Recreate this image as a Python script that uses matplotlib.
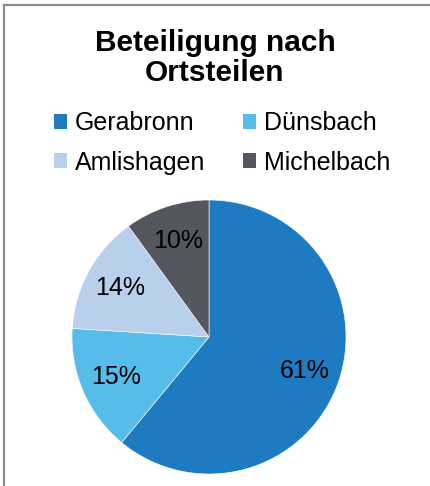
import matplotlib
matplotlib.use('Agg')
import matplotlib.pyplot as plt
from matplotlib.lines import Line2D
from matplotlib.patches import Patch

plt.rcParams['font.family'] = ['Liberation Sans', 'DejaVu Sans']

# Daten
ortsteile = ['Gerabronn', 'Dünsbach', 'Amlishagen', 'Michelbach']
anteile = [61, 15, 14, 10]
farben = ['#1F7BC1', '#56BCEA', '#B8D0EC', '#54575E']

fig = plt.figure(figsize=(4.31, 4.86), dpi=100)

# Rahmen (nur links und oben sichtbar)
fig.add_artist(Line2D([4.5 / 431, 4.5 / 431], [0, 1 - 5 / 486], transform=fig.transFigure,
                      color='#8c8c8c', lw=1.6))
fig.add_artist(Line2D([4.5 / 431, 1], [1 - 5 / 486, 1 - 5 / 486], transform=fig.transFigure,
                      color='#8c8c8c', lw=1.6))

# Titel
fig.text(215 / 431, 1 - 58 / 486, 'Beteiligung nach\nOrtsteilen', ha='center', va='center',
         fontsize=21.5, fontweight='bold', linespacing=1.06)

# Kreisdiagramm
ax = fig.add_axes([72 / 431, 12 / 486, 274 / 431, 274 / 486])
ax.pie(anteile, colors=farben, startangle=90, counterclock=False,
       autopct='%1.0f%%', pctdistance=0.74,
       textprops={'fontsize': 18, 'color': 'black'},
       wedgeprops={'edgecolor': 'white', 'linewidth': 0.4})
ax.set_xlim(-1, 1)
ax.set_ylim(-1, 1)
ax.set_aspect('equal')

# Legende (zeilenweise: Reihenfolge fuer spaltenweise Fuellung umstellen)
handles = [Patch(facecolor=c, edgecolor='none') for c in farben]
reihe = [0, 2, 1, 3]
fig.legend([handles[i] for i in reihe], [ortsteile[i] for i in reihe], ncol=2, loc='center',
           bbox_to_anchor=(222 / 431, 1 - 143 / 486),
           frameon=False, fontsize=18, handlelength=0.55, handleheight=0.55,
           handletextpad=0.3, columnspacing=1.5, labelspacing=0.62, borderpad=0)

fig.savefig('out.png', dpi=100)
